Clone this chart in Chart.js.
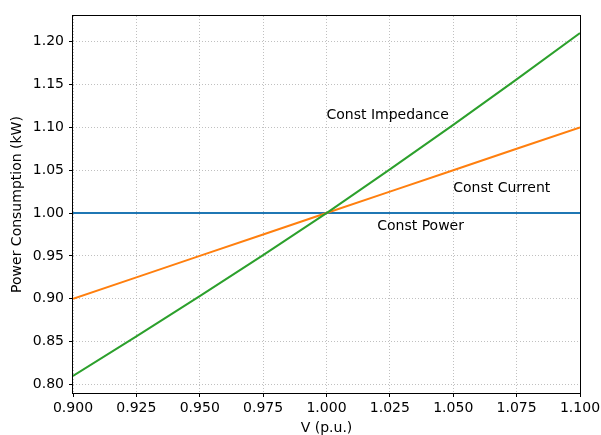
<!DOCTYPE html>
<html>
<head>
<meta charset="utf-8">
<script src="https://cdn.jsdelivr.net/npm/chart.js@4.4.1/dist/chart.umd.min.js"></script>
<style>
  html, body { margin: 0; padding: 0; background: #ffffff; }
  #wrap { width: 601px; height: 435px; }
</style>
</head>
<body>
<div id="wrap"><canvas id="c" width="601" height="435"></canvas></div>
<script>
// Supply voltage (p.u.)
const voltage = [0.900, 0.925, 0.950, 0.975, 1.000, 1.025, 1.050, 1.075, 1.100];
// Power drawn by each load model (kW)
const constPower     = [1.00, 1.00, 1.00, 1.00, 1.00, 1.00, 1.00, 1.00, 1.00];
const constCurrent   = [0.900, 0.925, 0.950, 0.975, 1.000, 1.025, 1.050, 1.075, 1.100];
const constImpedance = [0.810, 0.856, 0.903, 0.951, 1.000, 1.051, 1.103, 1.156, 1.210];

const xTicks = [0.900, 0.925, 0.950, 0.975, 1.000, 1.025, 1.050, 1.075, 1.100];
const yTicks = [0.80, 0.85, 0.90, 0.95, 1.00, 1.05, 1.10, 1.15, 1.20];

// In-plot curve names and where they sit (V, kW)
const curveNames = ['Const Impedance', 'Const Current', 'Const Power'];
const nameAnchorsV = [1.00, 1.05, 1.02];
const nameAnchorsP = [1.11, 1.025, 0.98];

const FONT = 'DejaVu Sans';
const FONT_SIZE = 14;

const toPoints = (ys) => voltage.map((v, i) => ({ x: v, y: ys[i] }));

// Draws the full box frame and the curve names
const framePlugin = {
  id: 'frameAndNames',
  afterDatasetsDraw(chart) {
    const { ctx, chartArea: a, scales } = chart;
    ctx.save();
    ctx.font = FONT_SIZE + 'px "' + FONT + '"';
    ctx.fillStyle = '#000000';
    ctx.textAlign = 'left';
    ctx.textBaseline = 'alphabetic';
    curveNames.forEach((name, i) => {
      ctx.fillText(name, scales.x.getPixelForValue(nameAnchorsV[i]),
                         scales.y.getPixelForValue(nameAnchorsP[i]));
    });
    ctx.strokeStyle = '#000000';
    ctx.lineWidth = 1;
    ctx.setLineDash([]);
    ctx.strokeRect(Math.round(a.left) - 0.5, Math.round(a.top) - 0.5,
                   Math.round(a.right - a.left) + 1, Math.round(a.bottom - a.top) + 1);
    ctx.restore();
  }
};

function fixTicks(values) {
  return (scale) => { scale.ticks = values.map(v => ({ value: v })); };
}

new Chart(document.getElementById('c'), {
  type: 'line',
  data: {
    datasets: [
      { label: 'Const Power', data: toPoints(constPower), borderColor: '#1f77b4', borderWidth: 2, pointRadius: 0, fill: false, order: 3 },
      { label: 'Const Current', data: toPoints(constCurrent), borderColor: '#ff7f0e', borderWidth: 2, pointRadius: 0, fill: false, order: 2 },
      { label: 'Const Impedance', data: toPoints(constImpedance), borderColor: '#2ca02c', borderWidth: 2, pointRadius: 0, fill: false, order: 1 }
    ]
  },
  options: {
    responsive: false,
    animation: false,
    devicePixelRatio: 1,
    layout: { padding: 0 },
    plugins: { legend: { display: false }, tooltip: { enabled: false } },
    elements: { line: { tension: 0 } },
    scales: {
      x: {
        type: 'linear',
        min: 0.9,
        max: 1.1,
        afterBuildTicks: fixTicks(xTicks),
        afterFit: (s) => { s.height = 42; s.paddingLeft = 0; s.paddingRight = 21; s.paddingTop = 0; s.paddingBottom = 0; },
        grid: { color: '#b0b0b0', lineWidth: 0.8, tickColor: '#000000', tickLength: 4, tickWidth: 1 },
        border: { display: false, dash: [1, 2] },
        ticks: {
          color: '#000000', padding: 3, maxRotation: 0, autoSkip: false,
          font: { family: FONT, size: FONT_SIZE },
          callback: (v) => Number(v).toFixed(3)
        },
        title: { display: true, text: 'V (p.u.)', color: '#000000', font: { family: FONT, size: FONT_SIZE, lineHeight: 1.0 }, padding: { top: 0, bottom: 0 } }
      },
      y: {
        type: 'linear',
        min: 0.79,
        max: 1.23,
        afterBuildTicks: fixTicks(yTicks),
        afterFit: (s) => { s.width = 73; s.paddingTop = 16; s.paddingBottom = 0; s.paddingLeft = 0; s.paddingRight = 0; },
        grid: { color: '#b0b0b0', lineWidth: 0.8, tickColor: '#000000', tickLength: 4, tickWidth: 1 },
        border: { display: false, dash: [1, 2] },
        ticks: {
          color: '#000000', padding: 5, autoSkip: false,
          font: { family: FONT, size: FONT_SIZE },
          callback: (v) => Number(v).toFixed(2)
        },
        title: { display: true, text: 'Power Consumption (kW)', color: '#000000', font: { family: FONT, size: FONT_SIZE }, padding: { top: 9, bottom: 0 } }
      }
    }
  },
  plugins: [framePlugin]
});
</script>
</body>
</html>
